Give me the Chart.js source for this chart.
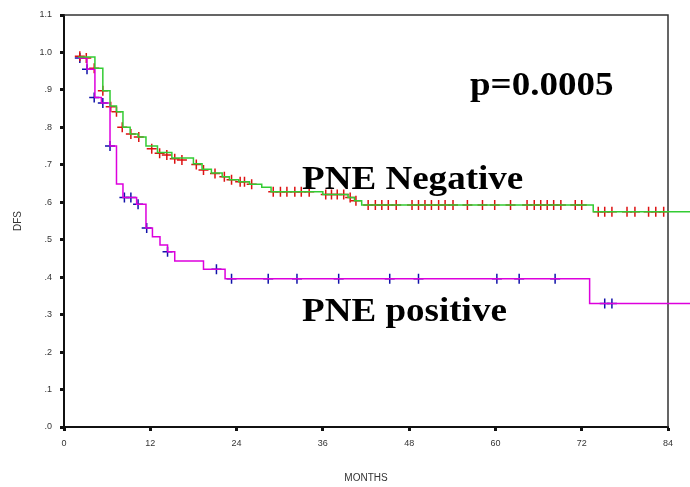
<!DOCTYPE html>
<html>
<head>
<meta charset="utf-8">
<script src="https://cdn.jsdelivr.net/npm/chart.js@4.4.0/dist/chart.umd.min.js"></script>
<style>
  html, body { margin: 0; padding: 0; background: #fff; }
  #wrap { width: 690px; height: 487px; }
</style>
</head>
<body>
<div id="wrap"><canvas id="kmChart"></canvas></div>
<script>
// Kaplan-Meier step points (month, DFS)
const negTimes = [2, 4.3, 5.4, 6.4, 7.3, 8.2, 9.2, 10.3, 11.4, 13.0, 15.0, 18.0, 19.2, 20.5, 22.0, 23.0, 24.3, 25.8, 27.5, 28.8, 36.0, 39.5, 40.4, 41.4, 73.6, 87.2];
const negSurv = [0.988, 0.958, 0.898, 0.857, 0.842, 0.800, 0.782, 0.774, 0.750, 0.733, 0.718, 0.703, 0.688, 0.678, 0.668, 0.660, 0.655, 0.648, 0.640, 0.628, 0.621, 0.613, 0.604, 0.593, 0.575, 0.575];

const posTimes = [2, 3.2, 4.3, 5.2, 6.4, 7.3, 8.2, 10.1, 11.4, 12.3, 13.35, 14.4, 15.4, 19.4, 22.4, 73.1, 87.2];
const posSurv = [0.985, 0.955, 0.880, 0.865, 0.750, 0.649, 0.613, 0.595, 0.531, 0.508, 0.486, 0.468, 0.443, 0.421, 0.396, 0.330, 0.330];

// censored observations (+ marks)
const negCensT = [2.2, 3.1, 4.2, 5.4, 6.5, 7.3, 8.1, 9.3, 10.4, 12.2, 13.3, 14.3, 15.4, 16.4, 18.4, 19.4, 21.0, 22.3, 23.3, 24.5, 25.1, 26.1,
  29.1, 30.1, 31.0, 32.1, 33.0, 34.1, 36.4, 37.2, 38.0, 38.9, 39.8, 40.6,
  42.3, 43.3, 44.2, 45.1, 46.2, 48.4, 49.3, 50.2, 51.1, 52.1, 53.0, 54.1, 56.1, 58.2, 59.9, 62.1, 64.4, 65.4, 66.3, 67.2, 68.1, 69.1, 71.1, 72.0,
  74.3, 75.2, 76.2, 78.3, 79.4, 81.3, 82.3, 83.4];
const negCensS = [0.990, 0.985, 0.958, 0.898, 0.855, 0.842, 0.800, 0.782, 0.774, 0.743, 0.731, 0.726, 0.716, 0.713, 0.701, 0.686, 0.677, 0.668, 0.660, 0.655, 0.655, 0.648,
  0.628, 0.628, 0.628, 0.628, 0.628, 0.628, 0.621, 0.621, 0.621, 0.621, 0.613, 0.604,
  0.593, 0.593, 0.593, 0.593, 0.593, 0.593, 0.593, 0.593, 0.593, 0.593, 0.593, 0.593, 0.593, 0.593, 0.593, 0.593, 0.593, 0.593, 0.593, 0.593, 0.593, 0.593, 0.593, 0.593,
  0.575, 0.575, 0.575, 0.575, 0.575, 0.575, 0.575, 0.575];

const posCensT = [2.2, 3.2, 4.2, 5.4, 6.4, 8.4, 9.3, 10.3, 11.5, 14.4, 21.2, 23.3, 28.4, 32.4, 38.2, 45.3, 49.3, 60.2, 63.3, 68.3, 75.2, 76.2];
const posCensS = [0.985, 0.955, 0.880, 0.865, 0.750, 0.613, 0.613, 0.595, 0.531, 0.468, 0.421, 0.396, 0.396, 0.396, 0.396, 0.396, 0.396, 0.396, 0.396, 0.396, 0.330, 0.330];

const xTicks = [0, 12, 24, 36, 48, 60, 72, 84];

function toPoints(xs, ys) {
  return xs.map((x, i) => ({ x: x, y: ys[i] }));
}

// draws a bit wider than the font, like the stretched original
function wideText(c, text, x, y) {
  c.save();
  c.translate(x, y);
  c.scale(1.09, 1);
  c.fillText(text, 0, 0);
  c.restore();
}

// frame + text labels drawn on top of the chart
const framePlugin = {
  id: 'frame',
  beforeDatasetsDraw(chart) {
    const { ctx, chartArea: a } = chart;
    ctx.save();
    ctx.strokeStyle = '#333';
    ctx.lineWidth = 1.5;
    ctx.beginPath();
    ctx.moveTo(a.left, a.top);
    ctx.lineTo(a.right, a.top);
    ctx.lineTo(a.right, a.bottom);
    ctx.stroke();
    ctx.restore();
  },
  afterDraw(chart) {
    const ctx = chart.ctx;
    ctx.save();
    ctx.fillStyle = '#000';
    ctx.font = 'bold 34px "Liberation Serif", "Times New Roman", serif';
    ctx.textBaseline = 'alphabetic';
    wideText(ctx, 'p=0.0005', 470, 95);
    wideText(ctx, 'PNE Negative', 302, 189);
    wideText(ctx, 'PNE positive', 302, 321);
    ctx.restore();
  }
};

const ctx = document.getElementById('kmChart').getContext('2d');
const chart = new Chart(ctx, {
  type: 'line',
  data: {
    datasets: [
      {
        label: 'PNE Negative',
        data: toPoints(negTimes, negSurv),
        stepped: true,
        borderColor: '#33cc33',
        borderWidth: 1.5,
        pointRadius: 0,
        fill: false,
        clip: false
      },
      {
        label: 'PNE positive',
        data: toPoints(posTimes, posSurv),
        stepped: true,
        borderColor: '#dd00dd',
        borderWidth: 1.5,
        pointRadius: 0,
        fill: false,
        clip: false
      },
      {
        label: 'Negative censored',
        type: 'scatter',
        data: toPoints(negCensT, negCensS),
        showLine: false,
        pointStyle: 'cross',
        pointRadius: 5,
        borderColor: '#dd1111',
        borderWidth: 1.5,
        clip: false
      },
      {
        label: 'Positive censored',
        type: 'scatter',
        data: toPoints(posCensT, posCensS),
        showLine: false,
        pointStyle: 'cross',
        pointRadius: 5,
        borderColor: '#1111aa',
        borderWidth: 1.5,
        clip: false
      }
    ]
  },
  options: {
    responsive: true,
    maintainAspectRatio: false,
    animation: false,
    layout: { padding: { top: 15, right: 22, left: 0, bottom: 0 } },
    plugins: {
      legend: { display: false },
      tooltip: { enabled: false }
    },
    scales: {
      x: {
        type: 'linear',
        min: 0,
        max: 84,
        afterBuildTicks: scale => { scale.ticks = xTicks.map(v => ({ value: v })); },
        afterFit: scale => { scale.height = 60; },
        border: { display: true, color: '#111', width: 2 },
        grid: { drawOnChartArea: false, tickLength: 4, tickWidth: 3, tickColor: '#111' },
        ticks: {
          color: '#333',
          padding: 7,
          font: { family: 'Arial, "Liberation Sans", sans-serif', size: 9 },
          maxRotation: 0
        },
        title: {
          display: true,
          text: 'MONTHS',
          color: '#333',
          font: { family: 'Arial, "Liberation Sans", sans-serif', size: 10 },
          padding: { top: 0, bottom: 3 }
        }
      },
      y: {
        type: 'linear',
        min: 0,
        max: 1.1,
        afterFit: scale => { scale.width = 64; },
        border: { display: true, color: '#111', width: 2 },
        grid: { drawOnChartArea: false, tickLength: 4, tickWidth: 3, tickColor: '#111' },
        ticks: {
          stepSize: 0.1,
          color: '#333',
          padding: 8,
          font: { family: 'Arial, "Liberation Sans", sans-serif', size: 9 },
          callback: v => (v >= 0.995 ? v.toFixed(1) : v.toFixed(1).slice(1))
        },
        title: {
          display: true,
          text: 'DFS',
          color: '#333',
          font: { family: 'Arial, "Liberation Sans", sans-serif', size: 10 },
          padding: { top: 12, bottom: 0 }
        }
      }
    }
  },
  plugins: [framePlugin]
});
</script>
</body>
</html>
